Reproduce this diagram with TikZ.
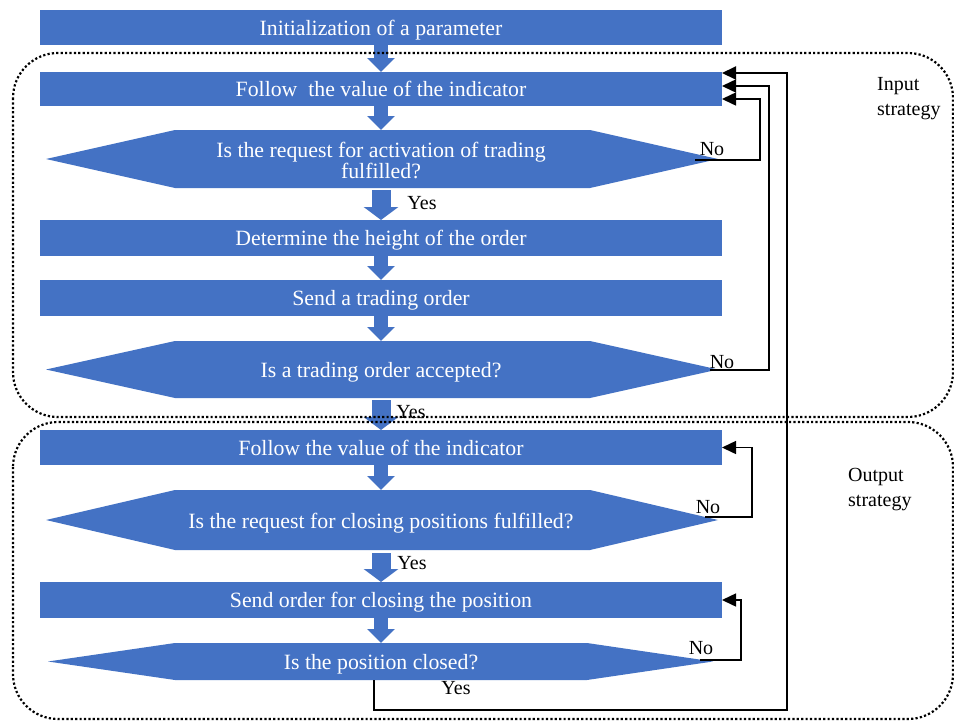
\documentclass[tikz,border=0pt]{standalone}
\usepackage{fontspec}
\setmainfont{Liberation Serif}
\usetikzlibrary{arrows.meta}
\definecolor{boxblue}{HTML}{4472C4}
\begin{document}
\begin{tikzpicture}[x=1pt,y=-1pt,
  box/.style={fill=boxblue, minimum width=682pt, inner sep=0pt, outer sep=0pt, text=white, text depth=0pt, font=\fontsize{21.8}{21.8}\selectfont},
  hexfill/.style={fill=boxblue},
  htext/.style={text=white, align=center, inner sep=0pt, font=\fontsize{21.8}{21}\selectfont},
  lbl/.style={font=\fontsize{20}{25}\selectfont, inner sep=0pt},
  flow/.style={draw=boxblue, line width=14pt, -{Triangle[width=27pt,length=14pt]}},
  bigflow/.style={draw=boxblue, line width=19pt, -{Triangle[width=34pt,length=13pt]}},
  back/.style={draw=black, line width=1.5pt, -{Triangle[width=13pt,length=14pt]}},
  dotbox/.style={draw=black, line width=2.2pt, dash pattern=on 2.2pt off 2.2pt, rounded corners=45pt}
]
\useasboundingbox (0,0) rectangle (954,721);
\fill[white] (0,0) rectangle (954,721);

% boxes
\node[box, minimum height=35pt] (b1) at (381,27.5) {Initialization of a parameter};
\node[box, minimum height=34pt] (b2) at (381,89) {Follow\ \ the value of the indicator};
\node[box, minimum height=36pt] (b3) at (381,238) {Determine the height of the order};
\node[box, minimum height=36pt] (b4) at (381,298) {Send a trading order};
\node[box, minimum height=35pt] (b5) at (381,447.5) {Follow the value of the indicator};
\node[box, minimum height=36pt] (b6) at (381,600) {Send order for closing the position};

% hexagons
\fill[hexfill] (46,159) -- (175,130) -- (590,130) -- (718,159) -- (590,188) -- (175,188) -- cycle;
\node[htext] (h1) at (381,160) {Is the request for activation of trading\\fulfilled?};
\coordinate (h1n) at (381,130);
\coordinate (h1s) at (381,188);
\coordinate (h1e) at (695,160);

\fill[hexfill] (46,369.5) -- (175,341) -- (590,341) -- (718,369.5) -- (590,398) -- (175,398) -- cycle;
\node[htext, text depth=0pt] (h2) at (381,370) {Is a trading order accepted?};
\coordinate (h2n) at (381,341);
\coordinate (h2s) at (381,398);
\coordinate (h2e) at (710,370);

\fill[hexfill] (46,520) -- (175,490) -- (590,490) -- (718,520) -- (590,550) -- (175,550) -- cycle;
\node[htext, text depth=0pt] (h3) at (381,520.5) {Is the request for closing positions fulfilled?};
\coordinate (h3n) at (381,490);
\coordinate (h3s) at (381,550);
\coordinate (h3e) at (705,517);

\fill[hexfill] (48,661.5) -- (175,643) -- (587,643) -- (713,661.5) -- (587,680) -- (175,680) -- cycle;
\node[htext, text depth=0pt] (h4) at (381,662) {Is the position closed?};
\coordinate (h4n) at (381,643);
\coordinate (h4y) at (374,680);
\coordinate (h4e) at (700,660);

% flow arrows
\draw[flow] (b1.south) -- (b2.north);
\draw[flow] (b2.south) -- (h1n);
\draw[bigflow] ([yshift=-2pt]h1s) -- (b3.north);
\draw[flow] (b3.south) -- (b4.north);
\draw[flow] (b4.south) -- (h2n);
\draw[bigflow] ([yshift=-2pt]h2s) -- (b5.north);
\draw[flow] (b5.south) -- (h3n);
\draw[bigflow] ([yshift=-3pt]h3s) -- (b6.north);
\draw[flow] (b6.south) -- (h4n);

% feedback lines
\draw[back] (h1e) -- (760,160) -- (760,99) -- ([yshift=-10pt]b2.east);
\draw[back] (h2e) -- (769,370) -- (769,86) -- ([yshift=3pt]b2.east);
\draw[back, line width=2pt] (h4y) -- (374,710) -- (787,710) -- (787,73) -- ([yshift=16pt]b2.east);
\draw[back] (h3e) -- (752,517) -- (752,447.5) -- (b5.east);
\draw[back] (h4e) -- (741,660) -- (741,600) -- (b6.east);

% labels
\node[lbl] (no1) at (712,149) {No};
\node[lbl] (no2) at (722,362) {No};
\node[lbl] (no3) at (708,507) {No};
\node[lbl] (no4) at (701,648) {No};
\node[lbl] (yes1) at (422,203) {Yes};
\node[lbl] (yes2) at (411,412) {Yes};
\node[lbl] (yes3) at (412,563) {Yes};
\node[lbl] (yes4) at (456,688) {Yes};

\node[lbl, align=left, anchor=north west] (inp) at (877,77) {Input\\strategy};
\node[lbl, align=left, anchor=north west] (outp) at (848,468) {Output\\strategy};

% dotted regions
\draw[dotbox] (13,53) rectangle (953,417);
\draw[dotbox] (13,422) rectangle (953,719);
\end{tikzpicture}
\end{document}
